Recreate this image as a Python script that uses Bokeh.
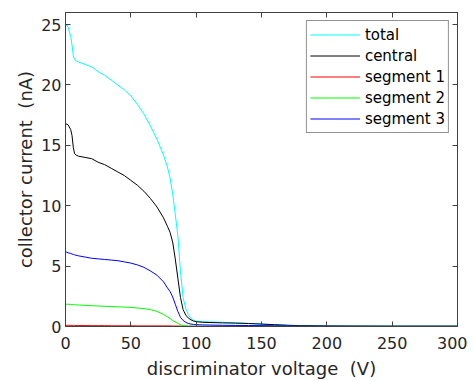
from bokeh.plotting import figure
from bokeh.models import Range1d, FixedTicker, LinearAxis, Legend, LegendItem, CustomJSTickFormatter
from bokeh.embed import file_html
from bokeh.resources import INLINE

# discriminator voltage (V)
voltage = [0, 2, 4, 5, 6, 7, 8, 10, 15, 20, 25, 30, 35, 40, 45, 50, 55, 60, 65, 70,
           75, 78, 80, 82, 84, 86, 88, 90, 92, 94, 96, 98,
           100, 105, 110, 120, 130, 140, 150, 160, 170, 180, 200, 220, 250, 280, 300]

total = [25.0, 24.8, 24.0, 23.3, 22.4, 22.1, 22.0, 21.9, 21.7, 21.5, 21.1, 20.8, 20.4, 20.0, 19.6, 19.1,
         18.4, 17.6, 16.6, 15.5, 14.2, 13.2, 12.3, 11.0, 9.3, 7.5, 4.5, 2.4, 1.5, 1.0, 0.65, 0.5,
         0.45, 0.4, 0.38, 0.35, 0.3, 0.25, 0.2, 0.15, 0.1, 0.07, 0.04, 0.03, 0.02, 0.02, 0.02]

central = [16.8, 16.7, 16.3, 15.8, 14.8, 14.3, 14.2, 14.1, 14.0, 13.9, 13.6, 13.4, 13.1, 12.8, 12.5, 12.1,
           11.7, 11.2, 10.6, 9.9, 9.0, 8.3, 7.8, 7.0, 5.6, 4.0, 2.4, 1.4, 0.95, 0.7, 0.55, 0.45,
           0.4, 0.35, 0.33, 0.3, 0.28, 0.25, 0.2, 0.15, 0.1, 0.07, 0.04, 0.03, 0.02, 0.02, 0.02]

segment1 = [0.1, 0.1, 0.09, 0.09, 0.09, 0.09, 0.08, 0.08, 0.08, 0.07, 0.07, 0.07, 0.06, 0.06, 0.06, 0.06,
            0.05, 0.05, 0.05, 0.05, 0.05, 0.05, 0.05, 0.04, 0.04, 0.04, 0.03, 0.03, 0.03, 0.02, 0.02, 0.02,
            0.01, 0.01, 0.01, 0.01, 0.01, 0.01, 0.01, 0.01, 0.01, 0.01, 0.01, 0.01, 0.01, 0.01, 0.01]

segment2 = [1.85, 1.84, 1.83, 1.82, 1.81, 1.8, 1.79, 1.78, 1.75, 1.72, 1.7, 1.67, 1.65, 1.63, 1.61, 1.58,
            1.53, 1.48, 1.4, 1.25, 1.0, 0.8, 0.65, 0.5, 0.38, 0.25, 0.15, 0.08, 0.05, 0.04, 0.03, 0.03,
            0.02, 0.02, 0.02, 0.02, 0.02, 0.02, 0.02, 0.02, 0.02, 0.02, 0.02, 0.02, 0.02, 0.02, 0.02]

segment3 = [6.2, 6.1, 6.05, 6.0, 5.97, 5.93, 5.9, 5.85, 5.75, 5.65, 5.6, 5.55, 5.5, 5.45, 5.35, 5.25,
            5.1, 4.9, 4.6, 4.25, 3.7, 3.2, 2.9, 2.45, 1.85, 1.25, 0.75, 0.5, 0.35, 0.25, 0.2, 0.17,
            0.15, 0.13, 0.12, 0.1, 0.09, 0.08, 0.07, 0.06, 0.05, 0.04, 0.03, 0.02, 0.02, 0.02, 0.02]

series_names = ["total", "central", "segment 1", "segment 2", "segment 3"]
series_values = [total, central, segment1, segment2, segment3]
series_colors = ["#00ffff", "#000000", "#ff0000", "#00ff00", "#0000ff"]

x_ticks = [0, 50, 100, 150, 200, 250, 300]
y_ticks = [0, 5, 10, 15, 20, 25]

FONT = "DejaVu Sans"
AXIS_COLOR = "#404040"
TEXT_COLOR = "#262626"

p = figure(width=467, height=373, frame_width=392, frame_height=314,
           x_range=Range1d(0, 300), y_range=Range1d(0, 26),
           output_backend="svg", toolbar_location=None,
           min_border_left=65, min_border_right=10, min_border_top=12, min_border_bottom=47,
           x_axis_label="discriminator voltage \u00a0(V)",
           y_axis_label="collector current \u00a0(nA)")

p.xgrid.visible = False
p.ygrid.visible = False
p.outline_line_color = AXIS_COLOR
p.background_fill_color = "white"
p.border_fill_color = "white"

def style_axis(ax, ticks, show_labels):
    ax.ticker = FixedTicker(ticks=ticks)
    ax.axis_line_color = AXIS_COLOR
    ax.major_tick_line_color = AXIS_COLOR
    ax.major_tick_in = 5
    ax.major_tick_out = 0
    ax.minor_tick_line_color = None
    ax.major_label_text_font = FONT
    ax.major_label_text_color = TEXT_COLOR
    if show_labels:
        ax.major_label_text_font_size = "16px"
        ax.axis_label_text_font = FONT
        ax.axis_label_text_font_size = "18px"
        ax.axis_label_text_font_style = "normal"
        ax.axis_label_text_color = TEXT_COLOR
    else:
        ax.formatter = CustomJSTickFormatter(code="return ''")
        ax.major_label_standoff = 0

style_axis(p.xaxis[0], x_ticks, True)
style_axis(p.yaxis[0], y_ticks, True)
p.xaxis[0].major_label_standoff = 10
p.xaxis[0].axis_label_standoff = 6
p.yaxis[0].major_label_standoff = 4
p.yaxis[0].axis_label_standoff = 2

top_ax = LinearAxis()
right_ax = LinearAxis()
style_axis(top_ax, x_ticks, False)
style_axis(right_ax, y_ticks, False)
p.add_layout(top_ax, "above")
p.add_layout(right_ax, "right")

items = []
for name, vals, col in zip(series_names, series_values, series_colors):
    r = p.line(voltage, vals, line_color=col, line_width=1)
    items.append(LegendItem(label=name, renderers=[r]))

legend = Legend(items=items, location="top_right")
legend.label_text_font = FONT
legend.label_text_font_size = "15px"
legend.label_text_color = "#000000"
legend.border_line_color = "#262626"
legend.border_line_width = 1
legend.background_fill_color = "white"
legend.background_fill_alpha = 1
legend.glyph_width = 50
legend.glyph_height = 21
legend.label_height = 21
legend.label_standoff = 5
legend.spacing = 0
legend.padding = 3
legend.margin = 8
p.add_layout(legend, "center")

open("out.html", "w").write(file_html(p, INLINE))
